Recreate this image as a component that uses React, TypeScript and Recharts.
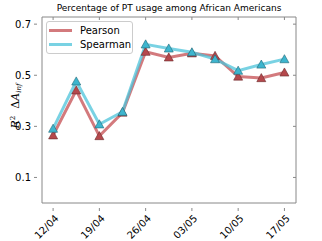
import React from 'react';
import { LineChart, Line, XAxis, YAxis, ReferenceArea } from 'recharts';

const dateLabels = ['12/04', '19/04', '26/04', '03/05', '10/05', '17/05'];
const dateTickIdx = [0, 2, 4, 6, 8, 10];
const pearson = [0.265, 0.441, 0.262, 0.354, 0.592, 0.570, 0.586, 0.576, 0.495, 0.489, 0.511];
const spearman = [0.291, 0.476, 0.308, 0.357, 0.621, 0.605, 0.590, 0.563, 0.518, 0.542, 0.563];
const yTicks = [0.1, 0.3, 0.5, 0.7];

const data = pearson.map((p, i) => ({ idx: i, pearson: p, spearman: spearman[i] }));

const RED = '#C44E52';
const BLUE = '#4CC3D9';
const FRAME = '#888888';
const FONT = 'DejaVu Sans';
const XDOM: [number, number] = [-0.48, 10.5];
const YDOM: [number, number] = [0, 0.728];

const triangle = (fill: string, edge: string) => (props: any) => {
  const { cx, cy } = props;
  if (cx == null || cy == null) return null;
  const s = 4.5;
  const d = `M${cx},${cy - s} L${cx + s},${cy + s * 0.8} L${cx - s},${cy + s * 0.8} Z`;
  return <path key={`${cx}-${cy}`} d={d} fill={fill} stroke={edge} strokeWidth={0.6} />;
};

const BottomTick = (props: any) => {
  const { x, y, payload } = props;
  const i = dateTickIdx.indexOf(payload.value);
  const label = i >= 0 ? dateLabels[i] : '';
  return (
    <g>
      <line x1={x} y1={y} x2={x} y2={y - 3} stroke={FRAME} strokeWidth={1} />
      <line x1={x} y1={17} x2={x} y2={20} stroke={FRAME} strokeWidth={1} />
      <text
        x={0}
        y={0}
        transform={`translate(${x + 1},${y + 3}) rotate(-45)`}
        textAnchor="end"
        dominantBaseline="hanging"
        fontSize={10}
        fontFamily={FONT}
        fill="#000"
      >
        {label}
      </text>
    </g>
  );
};

const LeftTick = (props: any) => {
  const { x, y, payload } = props;
  return (
    <g>
      <line x1={x} y1={y} x2={x + 3} y2={y} stroke={FRAME} strokeWidth={1} />
      <line x1={296} y1={y} x2={293} y2={y} stroke={FRAME} strokeWidth={1} />
      <text x={x - 3} y={y} textAnchor="end" dominantBaseline="central" fontSize={10} fontFamily={FONT} fill="#000">
        {payload.value.toFixed(1)}
      </text>
    </g>
  );
};

const YLabelHtml = () => (
  <div
    style={{
      position: 'absolute',
      left: 13 - 35,
      top: 106 - 8,
      width: 70,
      height: 16,
      lineHeight: '16px',
      textAlign: 'center',
      transform: 'rotate(-90deg)',
      transformOrigin: '50% 50%',
      fontFamily: 'DejaVu Serif',
      fontSize: 11,
      color: '#000',
      whiteSpace: 'nowrap',
      zIndex: 2,
    }}
  >
    <i>R</i>
    <span style={{ fontSize: 7, verticalAlign: 4 }}>2</span>
    {'\u00a0\u00a0Δ'}
    <i>A</i>
    <i style={{ fontSize: 7, verticalAlign: -2 }}>inf</i>
  </div>
);

const LegendBox = () => (
  <div
    style={{
      position: 'absolute',
      left: 46,
      top: 21,
      border: '1px solid #cccccc',
      borderRadius: 3,
      background: '#fff',
      width: 87,
      height: 33,
      boxSizing: 'border-box',
      paddingTop: 2,
      fontFamily: FONT,
      fontSize: 10,
      zIndex: 2,
    }}
  >
    {[
      { name: 'Pearson', color: RED },
      { name: 'Spearman', color: BLUE },
    ].map((it) => (
      <div key={it.name} style={{ display: 'flex', alignItems: 'center', height: 13.5 }}>
        <div style={{ width: 23, height: 3, background: it.color, opacity: 0.75, marginLeft: 2, marginRight: 8 }} />
        <span style={{ color: '#000', lineHeight: '13px' }}>{it.name}</span>
      </div>
    ))}
  </div>
);

export default function App() {
  return (
    <div style={{ position: 'absolute', left: 0, top: 0, width: 322, height: 241, background: '#fff' }}>
      <div
        style={{
          position: 'absolute',
          left: 0,
          width: 338,
          top: 3,
          textAlign: 'center',
          fontFamily: FONT,
          fontSize: 9,
          color: '#000',
          whiteSpace: 'nowrap',
        }}
      >
        Percentage of PT usage among African Americans
      </div>
      <LineChart width={322} height={241} data={data} margin={{ top: 17, right: 26, bottom: 0, left: 0 }}>
        <XAxis
          dataKey="idx"
          type="number"
          domain={XDOM}
          ticks={dateTickIdx}
          tick={<BottomTick />}
          tickLine={false}
          axisLine={false}
          height={38}
          interval={0}
          allowDataOverflow
        />
        <YAxis
          type="number"
          domain={YDOM}
          ticks={yTicks}
          tick={<LeftTick />}
          tickLine={false}
          axisLine={false}
          width={42}
          interval={0}
          allowDataOverflow
        />
        <ReferenceArea
          x1={XDOM[0]}
          x2={XDOM[1]}
          y1={YDOM[0]}
          y2={YDOM[1]}
          fill="none"
          stroke={FRAME}
          strokeWidth={1}
          ifOverflow="visible"
        />
        <Line
          dataKey="pearson"
          name="Pearson"
          stroke={RED}
          strokeOpacity={0.75}
          strokeWidth={3}
          dot={triangle('#B5484C', '#6a2a2c')}
          isAnimationActive={false}
        />
        <Line
          dataKey="spearman"
          name="Spearman"
          stroke={BLUE}
          strokeOpacity={0.75}
          strokeWidth={3}
          dot={triangle('#3DB5CE', '#1f6675')}
          isAnimationActive={false}
        />
      </LineChart>
      <YLabelHtml />
      <LegendBox />
    </div>
  );
}
